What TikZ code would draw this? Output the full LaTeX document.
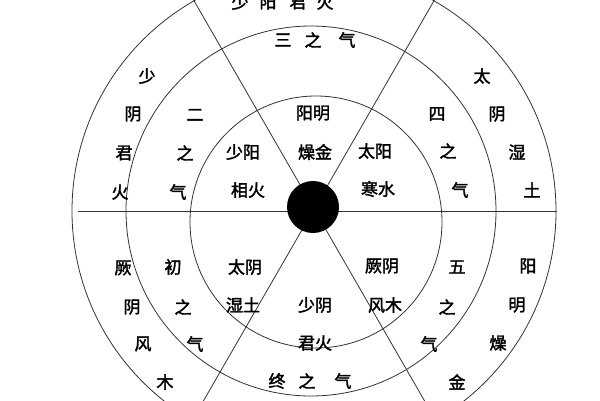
\documentclass[tikz,border=0pt]{standalone}
\usepackage{fontspec}
\newfontfamily\cjk{Noto Sans CJK SC}[FakeBold=2]

\begin{document}
\begin{tikzpicture}[x=1pt, y=-1pt,
    zi/.style={font=\cjk\fontsize{17}{17}\selectfont, inner sep=0pt},
    ring/.style={draw=black!80, line width=0.8pt}]
      \useasboundingbox (0, 0) rectangle (600, 400);
      \clip (0, 0) rectangle (600, 400);

      \coordinate (o) at (314, 209);

      % rings and spokes
      \draw[ring] (314, 211) circle (242pt);
      \draw[ring] (311, 211) circle (185pt);
      \draw[ring] (316, 222) circle (126pt);
      \draw[ring] (78, 211) -- (557, 211);
      \draw[ring] (o) -- ++(-121, -210);
      \draw[ring] (o) -- ++(121, -210);
      \draw[ring] (o) -- ++(-121, 210);
      \draw[ring] (o) -- ++(121, 210);
      \fill[black] (313, 207) circle (26pt);

      % outer ring
      \foreach \x/\y/\c [count=\i] in {240/2/少, 268/2/阳, 298/2/君, 325/2/火}
        \node[zi] (top\i) at (\x, \y) {\c};
      \foreach \x/\y/\c [count=\i] in {147/76/少, 133/114/阴, 124/153/君, 120/192/火}
        \node[zi] (lup\i) at (\x, \y) {\c};
      \foreach \x/\y/\c [count=\i] in {482/76/太, 497/114/阴, 517/152/湿, 532/190/土}
        \node[zi] (rup\i) at (\x, \y) {\c};
      \foreach \x/\y/\c [count=\i] in {123/268/厥, 132/307/阴, 143/344/风, 165/382/木}
        \node[zi] (ldn\i) at (\x, \y) {\c};
      \foreach \x/\y/\c [count=\i] in {528/266/阳, 517/305/明, 498/343/燥, 457/382/金}
        \node[zi] (rdn\i) at (\x, \y) {\c};

      % middle ring
      \foreach \x/\y/\c [count=\i] in {283/40/三, 313/40/之, 347/40/气}
        \node[zi] (qi3\i) at (\x, \y) {\c};
      \foreach \x/\y/\c [count=\i] in {195/115/二, 185/153/之, 178/192/气}
        \node[zi] (qi2\i) at (\x, \y) {\c};
      \foreach \x/\y/\c [count=\i] in {437/114/四, 448/151/之, 460/190/气}
        \node[zi] (qi4\i) at (\x, \y) {\c};
      \foreach \x/\y/\c [count=\i] in {173/267/初, 183/307/之, 195/344/气}
        \node[zi] (qi1\i) at (\x, \y) {\c};
      \foreach \x/\y/\c [count=\i] in {457/267/五, 447/307/之, 429/344/气}
        \node[zi] (qi5\i) at (\x, \y) {\c};
      \foreach \x/\y/\c [count=\i] in {277/381/终, 307/381/之, 343/381/气}
        \node[zi] (qi6\i) at (\x, \y) {\c};

      % inner ring
      \node[zi] (ymA) at (313, 113) {阳明};
      \node[zi] (ymB) at (315, 152) {燥金};
      \node[zi] (syA) at (243, 152) {少阳};
      \node[zi] (syB) at (248, 190) {相火};
      \node[zi] (tyA) at (375, 151) {太阳};
      \node[zi] (tyB) at (378, 189) {寒水};
      \node[zi] (tnA) at (245, 267) {太阴};
      \node[zi] (tnB) at (243, 305) {湿土};
      \node[zi] (snA) at (315, 305) {少阴};
      \node[zi] (snB) at (315, 343) {君火};
      \node[zi] (jyA) at (382, 266) {厥阴};
      \node[zi] (jyB) at (385, 305) {风木};
    \end{tikzpicture}
\end{document}
